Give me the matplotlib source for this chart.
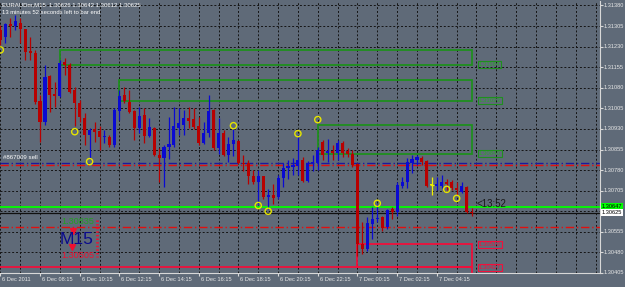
import numpy as np
import matplotlib.pyplot as plt
from matplotlib.patches import Rectangle

plt.rcParams['font.family'] = ['Liberation Sans', 'DejaVu Sans']

# EURAUDm M15 bars, prices in points (1e-5)
opens = [131290, 131265, 131312, 131305, 131316, 131294, 131215, 131206, 131033, 130954,
         131123, 131058, 131051, 131174, 131163, 131073, 131026, 130971, 130909, 130931,
         130924, 130899, 130902, 130870, 130996, 131054, 131028, 130996, 130935, 130982,
         130906, 130935, 130834, 130823, 130866, 130873, 130935, 130945, 130971, 130967,
         130942, 130880, 130917, 131000, 130859, 130917, 130834, 130877, 130887, 130807,
         130807, 130757, 130735, 130757, 130681, 130688, 130681, 130753, 130786, 130793,
         130796, 130818, 130739, 130807, 130807, 130883, 130843, 130851, 130843, 130879,
         130851, 130840, 130803, 130510, 130492, 130582, 130600, 130608, 130572, 130637,
         130626, 130723, 130738, 130806, 130817, 130824, 130813, 130727, 130723, 130723,
         130738, 130738, 130716, 130702, 130720, 130626]
highs = [131308, 131316, 131334, 131345, 131334, 131296, 131265, 131217, 131055, 131163,
         131127, 131102, 131181, 131188, 131170, 131084, 131037, 130989, 130935, 130956,
         130942, 130927, 130909, 131007, 131072, 131083, 131072, 131000, 131010, 131007,
         130971, 130938, 130862, 130873, 130974, 131010, 131007, 131000, 131010, 131007,
         130974, 130956, 131054, 131003, 130971, 130927, 130902, 130935, 130890, 130836,
         130818, 130782, 130782, 130760, 130710, 130728, 130764, 130807, 130818, 130825,
         130908, 130829, 130814, 130836, 130865, 130890, 130894, 130872, 130890, 130887,
         130861, 130854, 130806, 130590, 130608, 130647, 130655, 130611, 130640, 130647,
         130738, 130756, 130824, 130835, 130835, 130832, 130817, 130756, 130756, 130763,
         130748, 130745, 130738, 130738, 130723, 130642]
lows = [131236, 131243, 131265, 131290, 131243, 131182, 131182, 131022, 130881, 130946,
        130990, 131011, 131047, 131127, 131062, 130939, 130954, 130873, 130819, 130884,
        130855, 130880, 130866, 130866, 130963, 131025, 130989, 130891, 130917, 130880,
        130899, 130830, 130736, 130718, 130819, 130866, 130909, 130909, 130935, 130931,
        130873, 130877, 130902, 130855, 130837, 130830, 130808, 130830, 130804, 130775,
        130728, 130728, 130656, 130674, 130638, 130656, 130674, 130717, 130746, 130764,
        130764, 130735, 130735, 130775, 130782, 130818, 130811, 130818, 130818, 130829,
        130829, 130793, 130467, 130474, 130485, 130528, 130590, 130557, 130564, 130600,
        130611, 130716, 130716, 130770, 130799, 130799, 130720, 130691, 130709, 130716,
        130709, 130709, 130691, 130698, 130622, 130612]
closes = [131254, 131312, 131305, 131323, 131294, 131211, 131207, 131029, 130954, 131120,
          131055, 131051, 131170, 131163, 131066, 131026, 130972, 130909, 130927, 130920,
          130902, 130906, 130873, 131000, 131050, 131032, 130992, 130935, 130978, 130906,
          130938, 130834, 130823, 130866, 130877, 130942, 130953, 130971, 130960, 130938,
          130880, 130917, 130996, 130859, 130917, 130834, 130877, 130888, 130807, 130804,
          130757, 130735, 130757, 130681, 130688, 130677, 130753, 130789, 130796, 130800,
          130818, 130739, 130807, 130811, 130854, 130836, 130851, 130843, 130879, 130843,
          130840, 130800, 130510, 130492, 130586, 130600, 130604, 130568, 130633, 130626,
          130727, 130738, 130810, 130821, 130828, 130810, 130723, 130727, 130730, 130738,
          130730, 130716, 130709, 130723, 130626, 130625]

time_labels = ['6 Dec 2011', '6 Dec 08:15', '6 Dec 10:15', '6 Dec 12:15', '6 Dec 14:15',
               '6 Dec 16:15', '6 Dec 18:15', '6 Dec 20:15', '6 Dec 22:15', '7 Dec 00:15',
               '7 Dec 02:15', '7 Dec 04:15']
price_ticks = [1.31380, 1.31305, 1.31230, 1.31155, 1.31080, 1.31005, 1.30930, 1.30855,
               1.30780, 1.30705, 1.30630, 1.30555, 1.30480, 1.30405]

# zones: (start bar, end bar, low, high, label)
supply_zones = [(12, 95, 1.31164, 1.31216, '1.31164'),
                (24, 95, 1.31033, 1.31109, '1.31033'),
                (64, 95, 1.30840, 1.30946, '1.30840')]
demand_zones = [(72, 95, 1.30426, 1.30510, '1.30510'),
                (-5, 95, 1.30300, 1.30426, '1.30427')]

fractal_bars = [0, 15, 18, 47, 52, 54, 60, 64, 76, 90, 92]
fractal_prices = [1.31218, 1.30920, 1.30811, 1.30942, 1.30651, 1.30630, 1.30913,
                  1.30964, 1.30659, 1.30710, 1.30677]

level_green = 1.30647
bid = 1.30625
order_open = 1.30807
order_line = 1.30800
stop_line = 1.30574

BG = '#5f6a78'
BLUE = '#0a0ad2'
RED = '#b80000'
GREEN = '#1f8f1f'
CRIMSON = '#f0103c'

o = np.array(opens) / 1e5
h = np.array(highs) / 1e5
l = np.array(lows) / 1e5
c = np.array(closes) / 1e5
idx = np.arange(len(o))

fig = plt.figure(figsize=(6.25, 2.87), dpi=100, facecolor=BG)
ax = fig.add_axes([0, 14 / 287, 600 / 625, 272 / 287])
ax.set_facecolor(BG)
ax.set_xlim(-0.065, 120.9)
ax.set_ylim(1.304079, 1.313964)

# grid
for p in price_ticks:
    ax.axhline(p, color='#141414', lw=0.7, ls=(0, (2, 2)), zorder=0)
for t in range(0, 124, 4):
    ax.axvline(t, color='#141414', lw=0.7, ls=(0, (2, 2)), zorder=0)

# zones
for x0, x1, lo, hi, lab in supply_zones:
    ax.add_patch(Rectangle((x0, lo), x1 - x0, hi - lo, fill=False, ec=GREEN, lw=1.3, zorder=1))
    ax.text(96.5, lo, lab, fontsize=4.3, color='#2aa82a', va='center', ha='left',
            bbox=dict(boxstyle='square,pad=0.15', fc='none', ec=GREEN, lw=0.8), zorder=6)
for x0, x1, lo, hi, lab in demand_zones:
    ax.add_patch(Rectangle((x0, lo), x1 - x0, hi - lo, fill=False, ec=CRIMSON, lw=1.3, zorder=1))
    ax.text(96.5, hi, lab, fontsize=4.3, color=CRIMSON, va='center', ha='left',
            bbox=dict(boxstyle='square,pad=0.15', fc='none', ec=CRIMSON, lw=0.8), zorder=6)

# horizontal lines
ax.axhline(level_green, color='#00ff00', lw=1.3, zorder=2)
ax.axhline(bid, color='#101010', lw=0.9, zorder=2)
ax.axhline(order_open, color='#1a1aa0', lw=1.0, ls=(0, (6, 2, 1, 2)), zorder=2)
ax.axhline(order_line, color='#e01010', lw=1.0, ls=(0, (6, 2, 1, 2)), zorder=2)
ax.axhline(stop_line, color='#e01010', lw=1.0, ls=(0, (6, 2, 1, 2)), zorder=2)

# candles
cols = [BLUE if cc > oo else (RED if cc < oo else '#f0f000') for oo, cc in zip(o, c)]
ax.vlines(idx, l, h, colors=cols, lw=0.9, zorder=3)
body = np.maximum(np.abs(c - o), 0.00003)
ax.bar(idx, body, bottom=np.minimum(o, c), width=0.62, color=cols, lw=0, zorder=4)
doji = idx[o == c]
ax.hlines(c[doji], doji - 0.4, doji + 0.4, colors='#f0f000', lw=0.9, zorder=4)

# fractals
ax.scatter(fractal_bars, fractal_prices, s=20, facecolors='none', edgecolors='#e6e600',
           linewidths=1.0, zorder=5)

# texts
ax.text(0.004, 0.997, 'EURAUDm,M15  1.30626 1.30642 1.30612 1.30625', transform=ax.transAxes,
        fontsize=4.3, color='white', va='top', ha='left')
ax.text(0.004, 0.968, '13 minutes 52 seconds left to bar end', transform=ax.transAxes,
        fontsize=4.2, color='white', va='top', ha='left')
ax.text(0.5, 1.30826, '#867009 sell', fontsize=4.4, color='white', va='center', ha='left')
ax.text(96.1, 1.30657, '<13:52', fontsize=7, color='#1a1a1a', va='center', ha='left')

ax.text(0.103, 0.191, '1.30835', transform=ax.transAxes, fontsize=6.6, color='#22a022',
        va='center', ha='left')
ax.text(0.103, 0.0625, '1.30505', transform=ax.transAxes, fontsize=6.6, color='#f01030',
        va='center', ha='left')
ax.plot([0.122, 0.12], [0.153, 0.094], transform=ax.transAxes, ls='none', marker='v',
        ms=5, color='#f01030', zorder=6)
ax.plot([0.162, 0.162], [0.195, 0.06], transform=ax.transAxes, color='#f01030', lw=2,
        ls=(0, (0.5, 0.8)), zorder=6)
ax.text(0.100, 0.123, 'M15', transform=ax.transAxes, fontsize=12.5, color='#0a0a8c',
        va='center', ha='left', zorder=7)

# price axis labels
ytr = ax.get_yaxis_transform()
for p in price_ticks:
    if abs(p - 1.30630) < 1e-6:
        continue
    ax.text(1.006, p, f'{p:.5f}', transform=ytr, fontsize=4.1, color='#e8e8e8',
            va='center', ha='left', clip_on=False)
ax.text(1.003, level_green, f'{level_green:.5f}', transform=ytr, fontsize=4.1, color='black',
        va='center', ha='left', clip_on=False,
        bbox=dict(boxstyle='square,pad=0.15', fc='#00ff00', ec='none'))
ax.text(1.003, bid, f'{bid:.5f}', transform=ytr, fontsize=4.1, color='black',
        va='center', ha='left', clip_on=False,
        bbox=dict(boxstyle='square,pad=0.15', fc='white', ec='none'))

# time axis labels
xtr = ax.get_xaxis_transform()
for k, lab in enumerate(time_labels):
    ax.text(k * 8 + 0.4, -0.025, lab, transform=xtr, fontsize=4.1, color='#e8e8e8',
            va='center', ha='left', clip_on=False)

ax.set_xticks(np.arange(0, 96, 8))
ax.set_yticks(price_ticks)
ax.tick_params(axis='x', length=2, color='#d8d8d8', labelbottom=False)
ax.tick_params(axis='y', length=2, color='#d8d8d8', left=False, right=True,
               labelleft=False, labelright=False)
for s in ['left', 'top']:
    ax.spines[s].set_visible(False)
for s in ['right', 'bottom']:
    ax.spines[s].set_color('#d8d8d8')
    ax.spines[s].set_linewidth(0.8)

fig.savefig('out.png', dpi=100, facecolor=BG)
